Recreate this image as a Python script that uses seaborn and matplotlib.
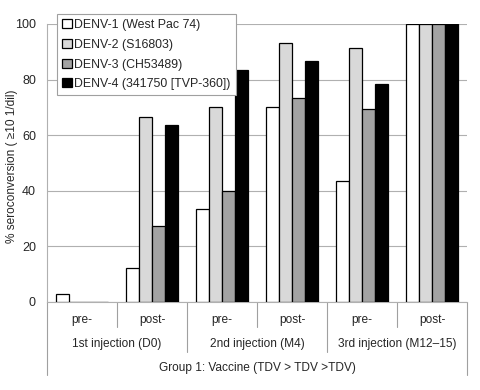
import pandas as pd
import matplotlib
matplotlib.use("Agg")
import matplotlib.pyplot as plt
import seaborn as sns

# time points (x categories), in order
timepoints = ["D0 pre", "D0 post", "M4 pre", "M4 post", "M12 pre", "M12 post"]
phase_labels = ["pre-", "post-", "pre-", "post-", "pre-", "post-"]
injection_labels = ["1st injection (D0)", "2nd injection (M4)", "3rd injection (M12\u201315)"]
group_label = "Group 1: Vaccine (TDV > TDV >TDV)"

serotypes = ["DENV-1 (West Pac 74)", "DENV-2 (S16803)", "DENV-3 (CH53489)", "DENV-4 (341750 [TVP-360])"]
denv1 = [3.0, 12.3, 33.3, 70.0, 43.5, 100.0]
denv2 = [0.0, 66.7, 70.0, 93.3, 91.3, 100.0]
denv3 = [0.0, 27.3, 40.0, 73.3, 69.6, 100.0]
denv4 = [0.0, 63.7, 83.3, 86.7, 78.3, 100.0]

colors = ["#ffffff", "#d9d9d9", "#a3a3a3", "#000000"]

rows = []
for name, vals in zip(serotypes, [denv1, denv2, denv3, denv4]):
    for tp, v in zip(timepoints, vals):
        rows.append({"timepoint": tp, "serotype": name, "value": v})
df = pd.DataFrame(rows)

sns.set_style("white")
plt.rcParams["font.family"] = ["Liberation Sans", "DejaVu Sans"]
fs = 8.6

fig = plt.figure(figsize=(4.8, 3.9), dpi=100)
ax = fig.add_axes([47 / 480, 1 - 302 / 390, 420 / 480, 278 / 390])

sns.barplot(data=df, x="timepoint", y="value", hue="serotype", order=timepoints,
            hue_order=serotypes, palette=colors, width=0.73, edgecolor="black",
            linewidth=0.9, ax=ax, zorder=3)

ax.set_xlim(-0.5, 5.5)
ax.set_ylim(0, 100)
ax.set_yticks([0, 20, 40, 60, 80, 100])
ax.yaxis.grid(True, color="#b0b0b0", linewidth=0.8, zorder=0)
ax.set_axisbelow(True)
ax.tick_params(axis="y", length=4, color="#b0b0b0", labelsize=fs + 0.4, pad=4)
ax.set_xticks([])
ax.set_xlabel("")
ax.set_ylabel("% seroconversion ( \u226510 1/dil)", fontsize=fs)
ax.yaxis.set_label_coords(-0.068, 0.49)
for s in ["top", "right"]:
    ax.spines[s].set_visible(False)
for s in ["left", "bottom"]:
    ax.spines[s].set_color("#b0b0b0")
    ax.spines[s].set_linewidth(0.8)

# multi-level category table under the axis
tr = ax.get_xaxis_transform()
line_kw = dict(color="#a0a0a0", linewidth=0.8, transform=tr, clip_on=False)
for x in [0.5, 2.5, 4.5]:
    ax.plot([x, x], [0, -0.09], **line_kw)
for x in [1.5, 3.5]:
    ax.plot([x, x], [0, -0.18], **line_kw)
for x in [-0.5, 5.5]:
    ax.plot([x, x], [0, -0.263], **line_kw)

for i, lab in enumerate(phase_labels):
    ax.text(i, -0.065, lab, transform=tr, ha="center", va="center", fontsize=fs)
for j, lab in enumerate(injection_labels):
    ax.text(2 * j + 0.5, -0.151, lab, transform=tr, ha="center", va="center", fontsize=fs)
ax.text(2.5, -0.237, group_label, transform=tr, ha="center", va="center", fontsize=fs)

leg = ax.legend(loc="upper left", bbox_to_anchor=(0.024, 1.036), borderaxespad=0,
                fontsize=fs + 0.3, frameon=True, fancybox=False, framealpha=1,
                edgecolor="#a0a0a0", handlelength=0.75, handleheight=0.75,
                handletextpad=0.2, labelspacing=0.62, borderpad=0.42)
leg.get_frame().set_linewidth(0.8)
leg.set_zorder(5)

fig.savefig("out.png", dpi=100)
